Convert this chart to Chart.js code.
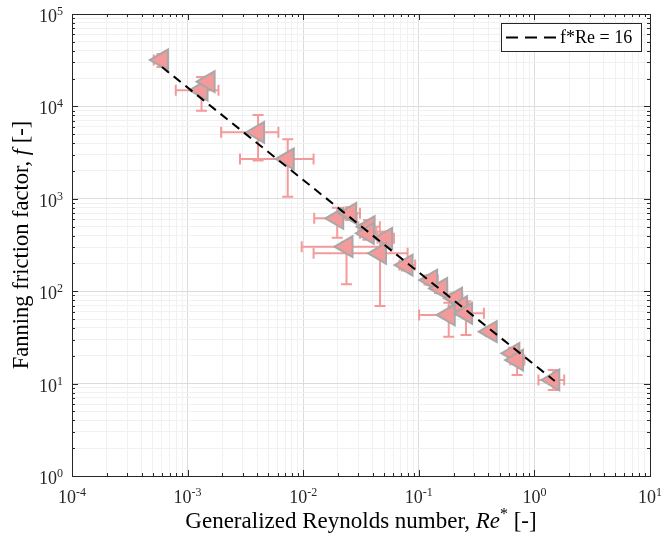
<!DOCTYPE html>
<html>
<head>
<meta charset="utf-8">
<script src="https://cdn.jsdelivr.net/npm/chart.js@4"></script>
<style>
  html, body { margin: 0; padding: 0; background: #fff; }
  canvas { display: block; }
</style>
</head>
<body>
<canvas id="chart" width="664" height="536"></canvas>
<script>
// --- DATA ---
const reX  = [6.0e-4, 1.32e-3, 1.52e-3, 4.07e-3, 7.35e-3, 0.0197, 0.0255, 0.0368, 0.0362, 0.0521, 0.0237, 0.0462,
              0.0783, 0.128, 0.156, 0.210, 0.232, 0.1815, 0.256, 0.419, 0.658, 0.708, 1.457];
const fY   = [31800, 15000, 18500, 5250, 2700, 615, 697, 499, 423, 374, 303, 257,
              192, 132, 107, 84, 68, 55.3, 57.6, 36.5, 21.3, 18.0, 10.94];
const reLo = [5.1e-4, 7.9e-4, 1.38e-3, 1.95e-3, 2.84e-3, 0.01245, 0.021, 0.030, 0.031, 0.044, 0.0097, 0.0123,
              0.068, 0.112, 0.138, 0.185, 0.20, 0.1006, 0.19, 0.38, 0.60, 0.62, 1.084];
const reHi = [6.6e-4, 1.85e-3, 1.68e-3, 6.1e-3, 0.0123, 0.029, 0.031, 0.046, 0.043, 0.061, 0.058, 0.080,
              0.093, 0.146, 0.176, 0.238, 0.27, 0.26, 0.366, 0.46, 0.72, 0.82, 1.81];
const fLo  = [26700, 8980, 16500, 2590, 1050, 380, 590, 420, 360, 320, 119, 69,
              168, 117, 95, 74, 58, 32.2, 33.6, 33, 18.5, 12.4, 8.53];
const fHi  = [36900, 20800, 21000, 8070, 4400, 800, 810, 590, 500, 440, 340, 440,
              218, 150, 120, 95, 80, 75, 78, 40, 24.5, 22, 14.0];

// f*Re = 16 reference line
const lineRe = [6.0e-4, 1.5];
const lineF  = [26667, 10.67];

// decade exponents for tick labels
const xExps = [-4, -3, -2, -1, 0, 1];
const yExps = [0, 1, 2, 3, 4, 5];

const PINK = '#f59a9a';
const GREY = '#a8a8a8';
const AXIS = '#262626';
const SERIF = '"Liberation Serif", "Times New Roman", serif';

function isDecade(v) {
    const l = Math.log10(v);
    return Math.abs(l - Math.round(l)) < 1e-9;
}

// 1..9 x 10^n between the first and last decade
function logTicks(exps) {
    const out = [];
    for (let e = exps[0]; e < exps[exps.length - 1]; e++) {
        for (let m = 1; m < 10; m++) out.push({ value: m * Math.pow(10, e), major: m === 1 });
    }
    out.push({ value: Math.pow(10, exps[exps.length - 1]), major: true });
    return out;
}

// draws a list of text pieces, with italic and superscript pieces, centred on x
function drawRich(ctx, parts, x, y, size) {
    const fontFor = p => `${p.italic ? 'italic ' : ''}${p.sup ? Math.round(size * 0.68) : size}px ${SERIF}`;
    let total = 0;
    parts.forEach(p => { ctx.font = fontFor(p); total += ctx.measureText(p.t).width; });
    let cx = x - total / 2;
    parts.forEach(p => {
        ctx.font = fontFor(p);
        ctx.fillText(p.t, cx, p.sup ? y - size * 0.4 : y);
        cx += ctx.measureText(p.t).width;
    });
}

// --- ERROR BARS ---
const errorBars = {
    id: 'errorBars',
    beforeDatasetsDraw(chart) {
        const { ctx, scales: { x, y } } = chart;
        const cap = 5.5;
        ctx.save();
        ctx.strokeStyle = PINK;
        ctx.lineWidth = 2;
        reX.forEach((re, i) => {
            const px = x.getPixelForValue(re);
            const py = y.getPixelForValue(fY[i]);
            const xl = x.getPixelForValue(reLo[i]);
            const xh = x.getPixelForValue(reHi[i]);
            const yl = y.getPixelForValue(fLo[i]);
            const yh = y.getPixelForValue(fHi[i]);
            ctx.beginPath();
            ctx.moveTo(xl, py); ctx.lineTo(xh, py);
            ctx.moveTo(xl, py - cap); ctx.lineTo(xl, py + cap);
            ctx.moveTo(xh, py - cap); ctx.lineTo(xh, py + cap);
            ctx.moveTo(px, yl); ctx.lineTo(px, yh);
            ctx.moveTo(px - cap, yl); ctx.lineTo(px + cap, yl);
            ctx.moveTo(px - cap, yh); ctx.lineTo(px + cap, yh);
            ctx.stroke();
        });
        ctx.restore();
    }
};

// --- FRAME, INWARD TICKS, LABELS, LEGEND ---
const frame = {
    id: 'frame',
    afterDraw(chart) {
        const { ctx, chartArea: a, scales: { x, y } } = chart;
        ctx.save();
        ctx.strokeStyle = AXIS;
        ctx.lineWidth = 1;
        ctx.strokeRect(Math.round(a.left) + 0.5, Math.round(a.top) + 0.5,
            Math.round(a.right - a.left), Math.round(a.bottom - a.top));

        ctx.beginPath();
        x.ticks.forEach(t => {
            const px = Math.round(x.getPixelForValue(t.value)) + 0.5;
            const len = t.major ? 6 : 3;
            ctx.moveTo(px, a.bottom); ctx.lineTo(px, a.bottom - len);
            ctx.moveTo(px, a.top); ctx.lineTo(px, a.top + len);
        });
        y.ticks.forEach(t => {
            const py = Math.round(y.getPixelForValue(t.value)) + 0.5;
            const len = t.major ? 6 : 3;
            ctx.moveTo(a.left, py); ctx.lineTo(a.left + len, py);
            ctx.moveTo(a.right, py); ctx.lineTo(a.right - len, py);
        });
        ctx.stroke();

        // tick labels 10^n
        ctx.fillStyle = AXIS;
        ctx.textBaseline = 'alphabetic';
        ctx.textAlign = 'left';
        xExps.forEach(e => {
            const px = x.getPixelForValue(Math.pow(10, e));
            drawRich(ctx, [{ t: '10' }, { t: String(e), sup: true }], px, a.bottom + 27, 18);
        });
        yExps.forEach(e => {
            const py = y.getPixelForValue(Math.pow(10, e));
            ctx.font = `12px ${SERIF}`;
            const ew = ctx.measureText(String(e)).width;
            ctx.font = `18px ${SERIF}`;
            const bw = ctx.measureText('10').width;
            const right = a.left - 9;
            ctx.fillText('10', right - ew - bw, py + 8);
            ctx.font = `12px ${SERIF}`;
            ctx.fillText(String(e), right - ew, py + 1);
        });

        // axis titles
        ctx.fillStyle = '#000';
        drawRich(ctx, [
            { t: 'Generalized Reynolds number, ' }, { t: 'Re', italic: true },
            { t: '*', sup: true }, { t: ' [-]' }
        ], (a.left + a.right) / 2, 528, 23);

        ctx.save();
        ctx.translate(28, (a.top + a.bottom) / 2);
        ctx.rotate(-Math.PI / 2);
        drawRich(ctx, [
            { t: 'Fanning friction factor, ' }, { t: 'f', italic: true }, { t: ' [-]' }
        ], 0, 0, 22.5);
        ctx.restore();

        // legend box
        const lx = 501, ly = 23, lw = 140, lh = 28;
        ctx.fillStyle = '#fff';
        ctx.fillRect(lx, ly, lw, lh);
        ctx.strokeStyle = AXIS;
        ctx.lineWidth = 1;
        ctx.strokeRect(lx + 0.5, ly + 0.5, lw, lh);
        ctx.strokeStyle = '#000';
        ctx.lineWidth = 2;
        ctx.setLineDash([12, 7]);
        ctx.beginPath();
        ctx.moveTo(506, ly + 14.5); ctx.lineTo(557, ly + 14.5);
        ctx.stroke();
        ctx.setLineDash([]);
        ctx.fillStyle = '#000';
        ctx.font = `18px ${SERIF}`;
        ctx.textBaseline = 'middle';
        ctx.fillText('f*Re = 16', 560, ly + 15);
        ctx.restore();
    }
};

const gridColor = c => (c.tick && isDecade(c.tick.value)) ? '#dcdcdc' : '#f1f1f1';

new Chart(document.getElementById('chart'), {
    type: 'scatter',
    data: {
        datasets: [
            {
                label: 'f*Re = 16',
                type: 'line',
                data: lineRe.map((re, i) => ({ x: re, y: lineF[i] })),
                borderColor: '#000',
                borderWidth: 2,
                borderDash: [9, 6],
                pointRadius: 0,
                fill: false,
                order: 0
            },
            {
                label: 'data',
                data: reX.map((re, i) => ({ x: re, y: fY[i] })),
                pointStyle: 'triangle',
                rotation: -90,
                radius: 12,
                backgroundColor: PINK,
                borderColor: GREY,
                borderWidth: 2,
                order: 1
            }
        ]
    },
    options: {
        responsive: false,
        animation: false,
        devicePixelRatio: 1,
        layout: { padding: { top: 14, right: 8, left: 0, bottom: 0 } },
        plugins: { legend: { display: false }, tooltip: { enabled: false } },
        scales: {
            x: {
                type: 'logarithmic',
                min: 1e-4,
                max: 10,
                afterBuildTicks: s => { s.ticks = logTicks(xExps); },
                ticks: { display: false, autoSkip: false },
                grid: { color: gridColor, drawTicks: false, lineWidth: 1 },
                border: { display: false },
                afterFit: s => { s.height = 60; s.paddingLeft = 0; s.paddingRight = 0; }
            },
            y: {
                type: 'logarithmic',
                min: 1,
                max: 1e5,
                afterBuildTicks: s => { s.ticks = logTicks(yExps); },
                ticks: { display: false, autoSkip: false },
                grid: { color: gridColor, drawTicks: false, lineWidth: 1 },
                border: { display: false },
                afterFit: s => { s.width = 72; s.paddingTop = 0; s.paddingBottom = 0; }
            }
        }
    },
    plugins: [errorBars, frame]
});
</script>
</body>
</html>
